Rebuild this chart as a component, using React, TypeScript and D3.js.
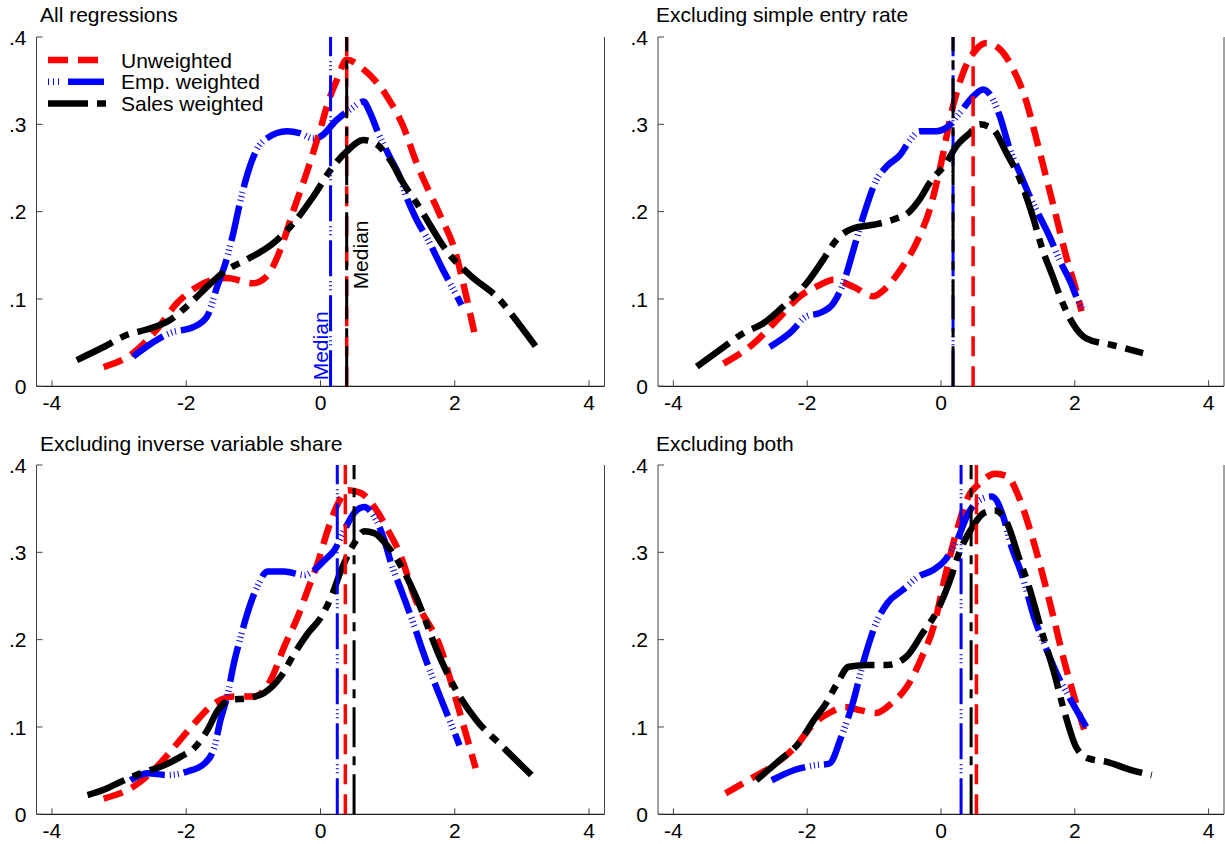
import React from "react";
import * as d3 from "d3";

type Pt = [number, number];

const panelTitles = [
  "All regressions",
  "Excluding simple entry rate",
  "Excluding inverse variable share",
  "Excluding both",
];
const xTicks = [-4, -2, 0, 2, 4];
const xTickLabels = ["-4", "-2", "0", "2", "4"];
const yTicks = [0, 0.1, 0.2, 0.3, 0.4];
const yTickLabels = ["0", ".1", ".2", ".3", ".4"];
const seriesNames = ["Unweighted", "Emp. weighted", "Sales weighted"];
const medianLabel = "Median";

// Panel 1: All regressions
const unwAll: Pt[] = [[-3.23,0.022],[-2.79,0.038],[-2.44,0.065],[-2.14,0.095],[-1.79,0.116],[-1.4,0.124],[-1.0,0.118],[-0.8,0.126],[-0.6,0.156],[-0.4,0.202],[-0.2,0.246],[0.0,0.295],[0.1,0.322],[0.25,0.352],[0.39,0.374],[0.64,0.363],[0.99,0.332],[1.23,0.298],[1.43,0.256],[1.78,0.196],[2.0,0.156],[2.15,0.11],[2.29,0.062]];
const empAll: Pt[] = [[-2.79,0.034],[-2.56,0.047],[-2.24,0.061],[-1.89,0.068],[-1.69,0.08],[-1.54,0.114],[-1.4,0.145],[-1.3,0.175],[-1.2,0.21],[-1.1,0.24],[-0.95,0.271],[-0.8,0.284],[-0.5,0.292],[-0.31,0.29],[-0.11,0.284],[0.0,0.286],[0.24,0.305],[0.44,0.317],[0.64,0.326],[0.74,0.313],[0.86,0.29],[1.03,0.263],[1.18,0.24],[1.28,0.217],[1.43,0.191],[1.6,0.168],[1.8,0.137],[2.0,0.108],[2.1,0.093]];
const salesAll: Pt[] = [[-3.63,0.03],[-3.23,0.045],[-2.88,0.059],[-2.59,0.065],[-2.24,0.076],[-1.89,0.099],[-1.69,0.114],[-1.4,0.133],[-1.1,0.145],[-0.7,0.164],[-0.4,0.187],[-0.11,0.217],[0.19,0.252],[0.39,0.269],[0.64,0.282],[0.84,0.277],[1.03,0.26],[1.23,0.233],[1.43,0.21],[1.93,0.15],[2.23,0.127],[2.67,0.099],[2.97,0.07],[3.24,0.042]];

// Panel 2: Excluding simple entry rate
const unwNoEntry: Pt[] = [[-3.25,0.026],[-2.8,0.049],[-2.45,0.076],[-2.11,0.103],[-1.81,0.116],[-1.61,0.122],[-1.31,0.114],[-1.01,0.103],[-0.86,0.11],[-0.61,0.133],[-0.32,0.172],[-0.17,0.202],[-0.02,0.248],[0.18,0.321],[0.33,0.359],[0.53,0.386],[0.68,0.393],[0.88,0.386],[1.08,0.363],[1.28,0.325],[1.43,0.282],[1.57,0.24],[1.72,0.195],[1.87,0.149],[2.02,0.11],[2.1,0.086]];
const empNoEntry: Pt[] = [[-2.56,0.045],[-2.26,0.061],[-2.01,0.08],[-1.81,0.084],[-1.61,0.095],[-1.46,0.118],[-1.31,0.156],[-1.16,0.195],[-0.96,0.237],[-0.81,0.252],[-0.61,0.265],[-0.47,0.281],[-0.32,0.292],[-0.07,0.292],[0.08,0.296],[0.28,0.313],[0.48,0.332],[0.63,0.34],[0.78,0.328],[0.88,0.309],[1.03,0.271],[1.18,0.244],[1.33,0.217],[1.47,0.195],[1.62,0.172],[1.77,0.145],[1.92,0.122],[2.07,0.095],[2.12,0.089]];
const salesNoEntry: Pt[] = [[-3.65,0.0225],[-3.3,0.042],[-2.95,0.061],[-2.66,0.072],[-2.31,0.095],[-2.01,0.118],[-1.76,0.145],[-1.56,0.168],[-1.31,0.181],[-1.01,0.185],[-0.71,0.191],[-0.47,0.2],[-0.32,0.214],[-0.17,0.233],[0.08,0.256],[0.23,0.275],[0.43,0.29],[0.58,0.3],[0.78,0.294],[0.98,0.267],[1.18,0.237],[1.37,0.195],[1.52,0.156],[1.67,0.126],[1.82,0.095],[1.97,0.072],[2.17,0.055],[2.57,0.047],[3.02,0.038]];

// Panel 3: Excluding inverse variable share
const unwNoInv: Pt[] = [[-3.23,0.018],[-2.78,0.032],[-2.43,0.055],[-2.18,0.077],[-1.88,0.104],[-1.58,0.127],[-1.29,0.135],[-0.99,0.135],[-0.74,0.154],[-0.54,0.192],[-0.34,0.226],[-0.19,0.257],[-0.04,0.288],[0.11,0.326],[0.26,0.356],[0.41,0.371],[0.6,0.368],[0.8,0.352],[1.0,0.326],[1.2,0.295],[1.4,0.249],[1.8,0.188],[2.02,0.131],[2.17,0.091],[2.31,0.053]];
const empNoInv: Pt[] = [[-2.83,0.039],[-2.58,0.047],[-2.28,0.045],[-1.98,0.049],[-1.73,0.058],[-1.58,0.077],[-1.49,0.108],[-1.39,0.135],[-1.29,0.173],[-1.19,0.203],[-1.09,0.23],[-0.94,0.261],[-0.79,0.278],[-0.54,0.278],[-0.24,0.274],[-0.09,0.28],[0.06,0.291],[0.21,0.303],[0.36,0.326],[0.5,0.345],[0.65,0.352],[0.8,0.341],[0.95,0.314],[1.05,0.288],[1.2,0.257],[1.4,0.215],[1.5,0.192],[1.8,0.131],[1.98,0.097],[2.07,0.079]];
const salesNoInv: Pt[] = [[-3.47,0.022],[-3.23,0.028],[-2.98,0.037],[-2.68,0.047],[-2.33,0.056],[-2.08,0.066],[-1.88,0.076],[-1.68,0.097],[-1.53,0.119],[-1.34,0.131],[-1.09,0.133],[-0.84,0.139],[-0.59,0.158],[-0.39,0.184],[-0.19,0.207],[0.01,0.226],[0.16,0.249],[0.31,0.28],[0.5,0.31],[0.65,0.324],[0.8,0.322],[1.0,0.307],[1.2,0.284],[1.4,0.253],[1.8,0.176],[2.02,0.142],[2.32,0.108],[2.69,0.079],[3.14,0.045]];

// Panel 4: Excluding both
const unwNoBoth: Pt[] = [[-3.22,0.024],[-2.88,0.039],[-2.47,0.058],[-2.18,0.077],[-1.9,0.104],[-1.67,0.116],[-1.44,0.123],[-1.2,0.119],[-0.97,0.116],[-0.74,0.127],[-0.51,0.146],[-0.28,0.181],[-0.11,0.215],[0.06,0.272],[0.24,0.326],[0.41,0.364],[0.58,0.379],[0.81,0.39],[0.99,0.387],[1.16,0.364],[1.33,0.326],[1.5,0.28],[1.68,0.226],[1.85,0.173],[2.02,0.127],[2.14,0.097]];
const empNoBoth: Pt[] = [[-2.53,0.039],[-2.18,0.051],[-1.9,0.056],[-1.67,0.058],[-1.49,0.089],[-1.32,0.127],[-1.15,0.177],[-0.97,0.219],[-0.8,0.242],[-0.57,0.257],[-0.34,0.272],[-0.11,0.28],[0.06,0.291],[0.24,0.314],[0.41,0.345],[0.58,0.36],[0.76,0.364],[0.93,0.341],[1.04,0.31],[1.22,0.272],[1.39,0.226],[1.56,0.192],[1.73,0.161],[1.91,0.135],[2.08,0.112],[2.17,0.1]];
const salesNoBoth: Pt[] = [[-2.76,0.039],[-2.41,0.062],[-2.13,0.081],[-1.9,0.108],[-1.72,0.127],[-1.55,0.15],[-1.38,0.169],[-1.09,0.171],[-0.8,0.171],[-0.51,0.181],[-0.28,0.207],[-0.05,0.234],[0.12,0.265],[0.29,0.303],[0.47,0.329],[0.64,0.345],[0.81,0.348],[0.99,0.333],[1.16,0.295],[1.33,0.257],[1.5,0.211],[1.68,0.165],[1.85,0.116],[2.02,0.077],[2.2,0.064],[2.48,0.06],[2.83,0.051],[3.15,0.045]];

// Medians: [unweighted, emp. weighted, sales weighted]
const mediansAll = [0.39, 0.15, 0.39];
const mediansNoEntry = [0.48, 0.18, 0.18];
const mediansNoInv = [0.37, 0.25, 0.5];
const mediansNoBoth = [0.53, 0.3, 0.45];

const panelSeries: Pt[][][] = [
  [unwAll, empAll, salesAll],
  [unwNoEntry, empNoEntry, salesNoEntry],
  [unwNoInv, empNoInv, salesNoInv],
  [unwNoBoth, empNoBoth, salesNoBoth],
];
const panelMedians = [mediansAll, mediansNoEntry, mediansNoInv, mediansNoBoth];

const COLORS = ["#ff0000", "#0000ff", "#000000"];
const DASHES = ["20,10", "36,5,1,3,1,3,1,5", "40,9,9,9"];
const FONT = "'Liberation Sans', Arial, Helvetica, sans-serif";
const AXIS = "#444";

const layouts = [
  { x0: 36.5, x1: 604.5, y0: 386.3, y1: 37, tx: 40, ty: 22 },
  { x0: 658, x1: 1224, y0: 386.3, y1: 37, tx: 656, ty: 22 },
  { x0: 36.5, x1: 604.5, y0: 814.3, y1: 465, tx: 40, ty: 451 },
  { x0: 658, x1: 1224, y0: 814.3, y1: 465, tx: 656, ty: 451 },
];

function Panel({ idx }: { idx: number }) {
  const L = layouts[idx];
  const x = d3.scaleLinear().domain([-4.23, 4.23]).range([L.x0, L.x1]);
  const y = d3.scaleLinear().domain([0, 0.4]).range([L.y0, L.y1]);
  const line = d3
    .line<Pt>()
    .x((d) => x(d[0]))
    .y((d) => y(d[1]))
    .curve(d3.curveMonotoneX);
  const series = panelSeries[idx];
  const meds = panelMedians[idx];
  return (
    <g>
      <text x={L.tx} y={L.ty} fontSize={21} fontFamily={FONT} fill="#000">
        {panelTitles[idx]}
      </text>
      {/* axes */}
      <line x1={L.x0} x2={L.x0} y1={y(0)} y2={y(0.4)} stroke={AXIS} strokeWidth={1} />
      <line x1={L.x1} x2={L.x1} y1={y(0)} y2={y(0.4)} stroke={AXIS} strokeWidth={1} />
      <line x1={L.x0} x2={L.x1} y1={y(0)} y2={y(0)} stroke="#222" strokeWidth={1.2} />
      {yTicks.map((t, i) => (
        <g key={"y" + i}>
          <line x1={L.x0} x2={L.x0 + 6} y1={y(t)} y2={y(t)} stroke={AXIS} strokeWidth={1} />
          <text x={L.x0 - 10} y={y(t)} dy="0.36em" textAnchor="end" fontSize={21} fontFamily={FONT}>
            {yTickLabels[i]}
          </text>
        </g>
      ))}
      {xTicks.map((t, i) => (
        <g key={"x" + i}>
          <line x1={x(t)} x2={x(t)} y1={y(0)} y2={y(0) - 6} stroke={AXIS} strokeWidth={1} />
          <text x={x(t)} y={y(0) + 24} textAnchor="middle" fontSize={21} fontFamily={FONT}>
            {xTickLabels[i]}
          </text>
        </g>
      ))}
      {/* density curves */}
      {series.map((s, i) => (
        <path
          key={"s" + i}
          d={line(s) || ""}
          fill="none"
          stroke={COLORS[i]}
          strokeWidth={6.5}
          strokeDasharray={DASHES[i]}
          strokeLinecap="butt"
        />
      ))}
      {/* medians */}
      {meds.map((m, i) => (
        <line
          key={"m" + i}
          x1={x(m)}
          x2={x(m)}
          y1={y(0)}
          y2={y(0.4)}
          stroke={COLORS[i]}
          strokeWidth={i === 0 ? 3.5 : 3}
          strokeDasharray={DASHES[i]}
        />
      ))}
      {idx === 0 && (
        <g>
          <text
            transform={`translate(${x(meds[1]) - 3},${y(0) - 6}) rotate(-90)`}
            fontSize={21}
            fontFamily={FONT}
            fill="#0000ff"
          >
            {medianLabel}
          </text>
          <text
            transform={`translate(${x(meds[2]) + 21},${y(0.111)}) rotate(-90)`}
            fontSize={21}
            fontFamily={FONT}
            fill="#000"
          >
            {medianLabel}
          </text>
          {seriesNames.map((n, i) => {
            const ly = 60 + i * 21.7;
            return (
              <g key={"l" + i}>
                <line
                  x1={48}
                  x2={i === 1 ? 104 : i === 0 ? 98 : 106}
                  y1={ly}
                  y2={ly}
                  stroke={COLORS[i]}
                  strokeWidth={6.5}
                  strokeDasharray={i === 0 ? "20,10" : i === 1 ? "1,4,1,4,1,9,36,100" : "40,9,9,100"}
                />
                <text x={121} y={ly + 7.5} fontSize={21} fontFamily={FONT}>
                  {n}
                </text>
              </g>
            );
          })}
        </g>
      )}
    </g>
  );
}

export default function App() {
  return (
    <svg
      width={1225}
      height={844}
      style={{ position: "absolute", left: 0, top: 0, background: "#fff" }}
    >
      <rect x={0} y={0} width={1225} height={844} fill="#fff" />
      {[0, 1, 2, 3].map((i) => (
        <Panel key={i} idx={i} />
      ))}
    </svg>
  );
}
